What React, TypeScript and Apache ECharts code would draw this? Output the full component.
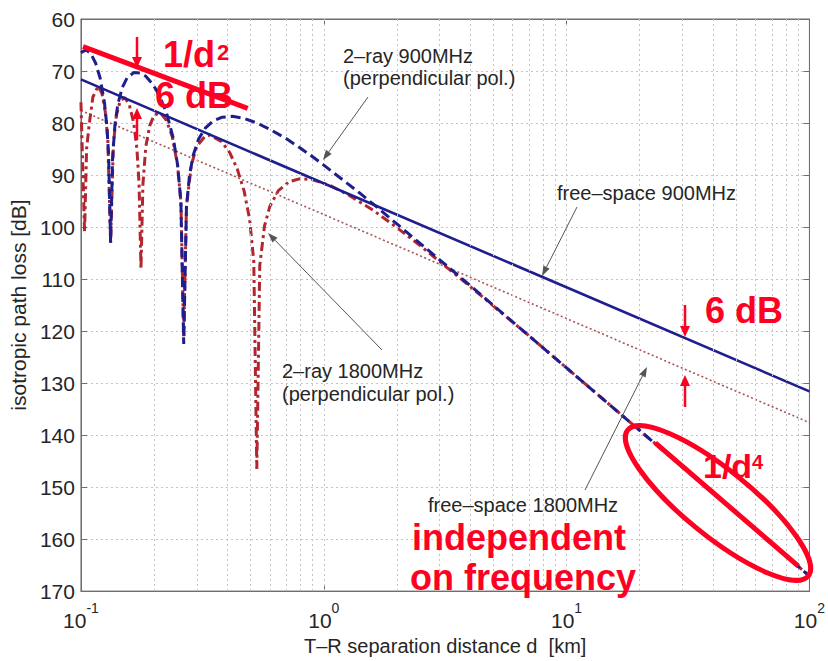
import React, { useEffect, useRef } from 'react';
import * as echarts from 'echarts';

// ---------- data ----------
const X_MIN = 0.1;
const X_MAX = 100;
const Y_MIN = 60;
const Y_MAX = 170;
const Y_STEP = 10;

// vertical dotted grid lines (log minor + decade positions)
const xGridValues = [
  0.2, 0.3, 0.4, 0.5, 0.6, 0.7, 0.8, 0.9, 1,
  2, 3, 4, 5, 6, 7, 8, 9, 10,
  20, 30, 40, 50, 60, 70, 80, 90,
];

const freeSpace900: number[][] = [[0.1, 71.6], [100, 131.6]];
const freeSpace1800: number[][] = [[0.1, 77.6], [100, 137.6]];

const twoRay900: number[][] = [
  [0.100, 66.5], [0.105, 65.9], [0.110, 66.7], [0.115, 68.5], [0.120, 71.4],
  [0.125, 76.1], [0.128, 80.8], [0.130, 86.2], [0.1325, 103], [0.135, 86.7],
  [0.138, 80.4], [0.142, 76.3], [0.148, 73.2], [0.155, 71.3], [0.165, 70.3],
  [0.175, 70.4], [0.185, 71.0], [0.198, 72.6], [0.210, 74.6], [0.225, 78.0],
  [0.240, 82.9], [0.250, 88.0], [0.258, 95.1], [0.265, 122.5], [0.272, 96.1],
  [0.280, 90.0], [0.290, 86.2], [0.305, 83.1], [0.325, 81.0], [0.350, 79.6],
  [0.380, 78.9], [0.420, 78.7], [0.470, 79.1], [0.530, 80.0], [0.600, 81.2],
  [0.700, 83.0], [0.800, 84.8], [0.900, 86.5], [1.0, 88.1], [1.1, 89.6],
  [1.25, 91.6], [1.4, 93.4], [1.6, 95.6], [2.0, 99.4], [2.5, 103.2],
  [3.2, 107.4], [4.0, 111.2], [5.0, 115.1], [7.0, 120.9], [10, 127.1],
  [20, 139.1], [50, 155.0], [100, 167.1],
];

const twoRay1800: number[][] = [
  [0.100, 76.0], [0.1035, 101], [0.1055, 85.0], [0.108, 80.5], [0.112, 75.0],
  [0.1178, 72.9], [0.122, 74.3], [0.126, 77.9], [0.129, 83.2], [0.1325, 103],
  [0.136, 84.1], [0.140, 78.5], [0.145, 75.8], [0.1514, 75.1], [0.158, 76.4],
  [0.165, 80.0], [0.170, 84.9], [0.1735, 91.6], [0.1767, 108], [0.180, 91.8],
  [0.185, 84.5], [0.192, 80.5], [0.200, 78.5], [0.212, 78.0], [0.225, 79.5],
  [0.238, 82.7], [0.250, 88.1], [0.258, 95.1], [0.265, 121], [0.272, 96.0],
  [0.285, 88.0], [0.300, 84.5], [0.325, 82.5], [0.340, 82.3], [0.380, 83.6],
  [0.410, 85.7], [0.440, 88.8], [0.470, 93.1], [0.495, 98.5], [0.515, 106.6],
  [0.530, 146.5], [0.545, 107.4], [0.570, 99.8], [0.600, 96.0], [0.650, 93.0],
  [0.720, 91.3], [0.800, 90.7], [0.900, 90.9], [1.06, 92.0], [1.25, 93.7],
  [1.6, 96.8], [2.0, 100.1], [2.5, 103.6], [3.2, 107.7], [4.0, 111.4],
  [5.0, 115.2], [7.0, 120.9], [10, 127.1], [20, 139.1], [50, 155.0], [100, 167.1],
];

// red annotation slope lines
const slopeD2: number[][] = [[0.102, 65.3], [0.486, 77.2]];
const slopeD4: number[][] = [[23.2, 141.5], [90, 165.2]];

// ---------- styles ----------
const BLUE = '#1e1e8e';
const RED_DD = '#b3262e';
const RED_DOT = '#a85454';
const ANNO = '#ff0022';
const GRID = '#c4c4c4';
const AXIS = '#6e6e6e';
const TEXT = '#262626';
const FAMILY = '"Liberation Sans", Arial, Helvetica, sans-serif';
const F_TXT = `20px ${FAMILY}`;
const F_BIG = `bold 36px ${FAMILY}`;

function arrow(x1: number, y1: number, x2: number, y2: number, color: string, w: number, hl: number, hw: number) {
  const dx = x2 - x1;
  const dy = y2 - y1;
  const L = Math.hypot(dx, dy);
  const ux = dx / L;
  const uy = dy / L;
  const bx = x2 - ux * hl;
  const by = y2 - uy * hl;
  const px = -uy;
  const py = ux;
  return [
    { type: 'line', z: 100, silent: true, shape: { x1, y1, x2: bx, y2: by }, style: { stroke: color, lineWidth: w } },
    {
      type: 'polygon', z: 100, silent: true,
      shape: { points: [[x2, y2], [bx + px * hw, by + py * hw], [bx - px * hw, by - py * hw]] },
      style: { fill: color },
    },
  ];
}

function label(text: string, x: number, y: number, font: string, color: string) {
  return {
    type: 'text', x, y, z: 100, silent: true,
    style: {
      text, fill: color, font,
      textAlign: 'left', textVerticalAlign: 'middle',
      align: 'left', verticalAlign: 'middle',
    },
  };
}

export default function App() {
  const ref = useRef<HTMLDivElement>(null);

  useEffect(() => {
    if (!ref.current) return;
    const chart = echarts.init(ref.current, undefined, { renderer: 'svg' });

    const graphics: any[] = [
      label('2–ray 900MHz', 343, 56, F_TXT, TEXT),
      label('(perpendicular pol.)', 343, 78, F_TXT, TEXT),
      label('free–space 900MHz', 557, 193, F_TXT, TEXT),
      label('2–ray 1800MHz', 282, 371, F_TXT, TEXT),
      label('(perpendicular pol.)', 282, 394, F_TXT, TEXT),
      label('free–space 1800MHz', 428, 505, F_TXT, TEXT),
      ...arrow(368, 97, 323, 160, '#555', 1, 10, 3.5),
      ...arrow(577, 207, 542, 276, '#555', 1, 10, 3.5),
      ...arrow(382, 350, 268, 233, '#555', 1, 10, 3.5),
      ...arrow(585, 490, 647, 367, '#555', 1, 10, 3.5),
      // red annotations
      label('1/d', 163, 54, F_BIG, ANNO),
      label('2', 217, 52, `bold 22px ${FAMILY}`, ANNO),
      label('6 dB', 155, 95, F_BIG, ANNO),
      label('6 dB', 705, 310, F_BIG, ANNO),
      label('1/d', 703, 466, `bold 34px ${FAMILY}`, ANNO),
      label('4', 752, 462, `bold 20px ${FAMILY}`, ANNO),
      label('independent', 412, 537, F_BIG, ANNO),
      label('on frequency', 410, 577, F_BIG, ANNO),
      ...arrow(137, 37, 137, 68, ANNO, 2.5, 11, 5),
      ...arrow(137, 140, 137, 108, ANNO, 2.5, 11, 5),
      ...arrow(685, 305, 685, 337, ANNO, 2.5, 11, 5),
      ...arrow(685, 407, 685, 375, ANNO, 2.5, 11, 5),
      {
        type: 'ellipse', x: 718, y: 503, rotation: -0.68, z: 100, silent: true,
        shape: { cx: 0, cy: 0, rx: 116, ry: 33 },
        style: { fill: 'none', stroke: ANNO, lineWidth: 5 },
      },
    ];

    const option: any = {
      animation: false,
      backgroundColor: '#ffffff',
      grid: { left: 78, top: 19, width: 737, height: 581, show: true, borderColor: AXIS, borderWidth: 1 },
      xAxis: [
        {
          type: 'log', logBase: 10, min: X_MIN, max: X_MAX, position: 'bottom',
          name: 'T–R separation distance d  [km]', nameLocation: 'middle', nameGap: 39,
          nameTextStyle: { fontSize: 20, color: TEXT, fontFamily: FAMILY },
          axisLine: { show: true, lineStyle: { color: AXIS, width: 1 } },
          axisTick: { show: true, inside: true, length: 6, lineStyle: { color: AXIS } },
          splitLine: { show: false },
          axisLabel: {
            margin: 10,
            color: TEXT,
            formatter: (v: number) => `{b|10}{s|${Math.round(Math.log10(v))}}`,
            rich: {
              b: { fontSize: 21, lineHeight: 30, fontFamily: FAMILY, color: TEXT, verticalAlign: 'bottom' },
              s: { fontSize: 14, lineHeight: 12, fontFamily: FAMILY, color: TEXT, verticalAlign: 'top' },
            },
          },
        },
        {
          type: 'log', logBase: 10, min: X_MIN, max: X_MAX, position: 'top',
          axisLine: { show: true, lineStyle: { color: AXIS, width: 1 } },
          axisTick: { show: true, inside: true, length: 6, lineStyle: { color: AXIS } },
          axisLabel: { show: false },
          splitLine: { show: false },
        },
      ],
      yAxis: [
        {
          type: 'value', inverse: true, min: Y_MIN, max: Y_MAX, interval: Y_STEP, position: 'left',
          name: 'isotropic path loss [dB]', nameLocation: 'middle', nameGap: 41,
          nameTextStyle: { fontSize: 21, color: TEXT, fontFamily: FAMILY },
          axisLine: { show: true, lineStyle: { color: AXIS, width: 1 } },
          axisTick: { show: true, inside: true, length: 6, lineStyle: { color: AXIS } },
          axisLabel: { fontSize: 21, color: TEXT, margin: 6, fontFamily: FAMILY },
          splitLine: { show: true, lineStyle: { color: GRID, type: [2, 3], width: 1 } },
        },
        {
          type: 'value', inverse: true, min: Y_MIN, max: Y_MAX, interval: Y_STEP, position: 'right',
          axisLine: { show: true, lineStyle: { color: AXIS, width: 1 } },
          axisTick: { show: true, inside: true, length: 6, lineStyle: { color: AXIS } },
          axisLabel: { show: false },
          splitLine: { show: false },
        },
      ],
      series: [
        {
          type: 'line', data: [], z: 1, silent: true,
          markLine: {
            silent: true, symbol: ['none', 'none'], label: { show: false },
            lineStyle: { color: GRID, type: [2, 3], width: 1 },
            data: xGridValues.map((v) => ({ xAxis: v })),
          },
        },
        {
          name: 'free-space 1800MHz', type: 'line', data: freeSpace1800, showSymbol: false, z: 2,
          lineStyle: { color: RED_DOT, width: 1.6, type: [2, 2.5] },
        },
        {
          name: '2-ray 1800MHz', type: 'line', data: twoRay1800, showSymbol: false, z: 3,
          lineStyle: { color: RED_DD, width: 3, type: [9, 4, 3, 4] },
        },
        {
          name: 'free-space 900MHz', type: 'line', data: freeSpace900, showSymbol: false, z: 4,
          lineStyle: { color: BLUE, width: 2.6 },
        },
        {
          name: '2-ray 900MHz', type: 'line', data: twoRay900, showSymbol: false, z: 5,
          lineStyle: { color: BLUE, width: 3, type: [10, 5] },
        },
        {
          name: '1/d2', type: 'line', data: slopeD2, showSymbol: false, z: 6,
          lineStyle: { color: ANNO, width: 5 },
        },
        {
          name: '1/d4', type: 'line', data: slopeD4, showSymbol: false, z: 6,
          lineStyle: { color: ANNO, width: 5 },
        },
      ],
      graphic: { elements: graphics },
    };

    chart.setOption(option);
    return () => chart.dispose();
  }, []);

  return (
    <div
      ref={ref}
      style={{ position: 'absolute', left: 0, top: 0, width: 828, height: 661, background: '#fff' }}
    />
  );
}
